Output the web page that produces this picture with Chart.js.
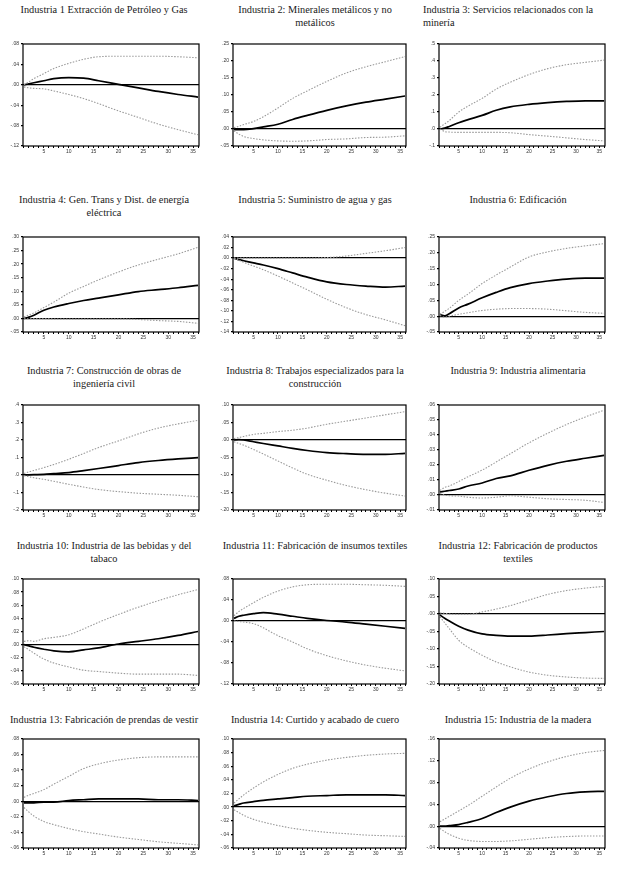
<!DOCTYPE html>
<html>
<head>
<meta charset="utf-8">
<script src="https://cdn.jsdelivr.net/npm/chart.js@4.4.1/dist/chart.umd.min.js"></script>
<style>
body { margin:0; background:#fff; width:617px; height:874px; position:relative; overflow:hidden; }
.titulo { position:absolute; font-family:'Liberation Serif', 'Times New Roman', 'DejaVu Serif', serif; font-size:10.3px; line-height:12.5px; color:#1a1a1a; white-space:pre; transform:translateX(-50%); text-align:center; }
.titulo.izq { transform:none; text-align:left; }
canvas { position:absolute; }
</style>
</head>
<body>
<script>
// periodos (horizonte 36)
const periodos = [1, 2, 3, 5, 7, 10, 13, 16, 20, 24, 28, 32, 36];

const titulos = [
    'Industria 1 Extracción de Petróleo y Gas',
    'Industria 2: Minerales metálicos y no\nmetálicos',
    'Industria 3: Servicios relacionados con la\nminería',
    'Industria 4: Gen. Trans y Dist. de energía\neléctrica',
    'Industria 5: Suministro de agua y gas',
    'Industria 6: Edificación',
    'Industria 7: Construcción de obras de\ningeniería civil',
    'Industria 8: Trabajos especializados para la\nconstrucción',
    'Industria 9: Industria alimentaria',
    'Industria 10: Industria de las bebidas y del\ntabaco',
    'Industria 11: Fabricación de insumos textiles',
    'Industria 12: Fabricación de productos\ntextiles',
    'Industria 13: Fabricación de prendas de vestir',
    'Industria 14: Curtido y acabado de cuero',
    'Industria 15: Industria de la madera'
];

// respuesta central
const centro = [
    [0, .002, .004, .008, .012, .014, .013, .008, .001, -.006, -.013, -.019, -.024],
    [-.002, -.002, -.002, .001, .006, .014, .028, .040, .055, .068, .079, .088, .097],
    [0, .005, .015, .037, .055, .080, .110, .130, .145, .155, .162, .166, .166],
    [0, .005, .012, .030, .042, .055, .066, .075, .087, .099, .106, .113, .122],
    [0, -.003, -.005, -.009, -.013, -.020, -.028, -.036, -.045, -.050, -.053, -.055, -.053],
    [.005, .001, .008, .026, .038, .058, .075, .090, .103, .111, .117, .120, .120],
    [0, .001, .002, .004, .008, .014, .025, .037, .054, .071, .083, .092, .099],
    [0, .001, 0, -.005, -.010, -.017, -.024, -.030, -.036, -.039, -.041, -.041, -.038],
    [.002, .0025, .003, .004, .006, .008, .011, .0128, .0165, .0198, .0225, .0245, .0264],
    [0, -.002, -.004, -.007, -.0095, -.011, -.008, -.005, .001, .005, .009, .014, .020],
    [.005, .009, .011, .014, .016, .013, .009, .005, .001, -.002, -.006, -.010, -.014],
    [-.003, -.012, -.020, -.035, -.046, -.057, -.061, -.063, -.063, -.060, -.056, -.053, -.050],
    [-.002, -.002, -.002, -.001, -.001, .001, .002, .003, .003, .003, .002, .002, .001],
    [.002, .004, .006, .008, .010, .012, .014, .016, .017, .018, .018, .018, .017],
    [0, 0, .001, .003, .007, .014, .025, .035, .046, .054, .060, .063, .064]
];

// banda superior (+2 SE)
const superior = [
    [0, .006, .012, .022, .032, .042, .050, .055, .056, .056, .056, .055, .053],
    [.004, .008, .013, .022, .036, .062, .090, .112, .140, .165, .183, .198, .213],
    [.010, .030, .050, .100, .135, .180, .235, .275, .320, .355, .378, .392, .405],
    [.005, .013, .020, .040, .060, .093, .118, .142, .171, .197, .218, .238, .262],
    [0, 0, 0, 0, 0, 0, 0, 0, .001, .004, .009, .014, .020],
    [.006, .015, .025, .050, .070, .103, .130, .155, .187, .203, .214, .222, .229],
    [.008, .018, .026, .042, .060, .090, .123, .157, .195, .235, .268, .292, .312],
    [.004, .007, .010, .016, .019, .024, .028, .034, .045, .054, .063, .072, .081],
    [.003, .005, .006, .009, .0122, .0166, .022, .0275, .0348, .0412, .047, .052, .0565],
    [.005, .006, .005, .009, .011, .015, .024, .034, .046, .057, .067, .076, .084],
    [.010, .018, .024, .035, .045, .057, .065, .069, .070, .070, .069, .068, .066],
    [.003, .002, 0, -.001, -.001, .006, .014, .024, .040, .056, .067, .074, .079],
    [.005, .008, .010, .015, .022, .032, .042, .048, .053, .056, .057, .057, .057],
    [.006, .012, .018, .028, .037, .048, .057, .063, .069, .073, .076, .078, .079],
    [.008, .013, .018, .028, .038, .055, .072, .088, .105, .118, .128, .135, .139]
];

// banda inferior (-2 SE)
const inferior = [
    [-.004, -.006, -.007, -.008, -.012, -.019, -.027, -.037, -.051, -.064, -.077, -.088, -.098],
    [-.005, -.015, -.022, -.028, -.032, -.035, -.036, -.035, -.031, -.029, -.025, -.024, -.020],
    [0, -.015, -.018, -.020, -.020, -.020, -.020, -.022, -.033, -.042, -.052, -.062, -.070],
    [-.001, -.001, -.001, -.001, -.002, -.002, -.002, -.002, -.002, -.004, -.008, -.011, -.018],
    [0, -.004, -.008, -.015, -.022, -.034, -.047, -.060, -.078, -.094, -.107, -.117, -.128],
    [.002, -.003, 0, .006, .011, .018, .022, .024, .024, .022, .017, .012, .009],
    [-.004, -.010, -.016, -.025, -.036, -.053, -.069, -.083, -.095, -.104, -.110, -.116, -.124],
    [-.005, -.010, -.015, -.027, -.040, -.060, -.080, -.098, -.115, -.130, -.142, -.152, -.160],
    [.001, 0, -.0005, -.0007, -.0015, -.002, -.0015, -.0005, -.0015, -.0025, -.003, -.0035, -.005],
    [-.003, -.008, -.013, -.022, -.028, -.034, -.039, -.041, -.0435, -.045, -.045, -.045, -.047],
    [0, -.001, -.002, -.005, -.013, -.028, -.040, -.053, -.066, -.076, -.084, -.090, -.095],
    [-.008, -.025, -.042, -.075, -.095, -.118, -.137, -.151, -.166, -.175, -.180, -.183, -.184],
    [-.008, -.014, -.019, -.026, -.030, -.035, -.039, -.042, -.046, -.049, -.052, -.054, -.056],
    [-.004, -.008, -.012, -.018, -.022, -.027, -.031, -.034, -.037, -.039, -.041, -.042, -.043],
    [-.004, -.010, -.015, -.022, -.026, -.028, -.028, -.027, -.024, -.021, -.019, -.018, -.018]
];

// etiquetas del eje y, de arriba hacia abajo
const etiquetasY = [
    ['.08', '.04', '.00', '-.04', '-.08', '-.12'],
    ['.25', '.20', '.15', '.10', '.05', '.00', '-.05'],
    ['.5', '.4', '.3', '.2', '.1', '.0', '-.1'],
    ['.30', '.25', '.20', '.15', '.10', '.05', '.00', '-.05'],
    ['.04', '.02', '.00', '-.02', '-.04', '-.06', '-.08', '-.10', '-.12', '-.14'],
    ['.25', '.20', '.15', '.10', '.05', '.00', '-.05'],
    ['.4', '.3', '.2', '.1', '.0', '-.1', '-.2'],
    ['.10', '.05', '.00', '-.05', '-.10', '-.15', '-.20'],
    ['.06', '.05', '.04', '.03', '.02', '.01', '.00', '-.01'],
    ['.10', '.08', '.06', '.04', '.02', '.00', '-.02', '-.04', '-.06'],
    ['.08', '.04', '.00', '-.04', '-.08', '-.12'],
    ['.10', '.05', '.00', '-.05', '-.10', '-.15', '-.20'],
    ['.08', '.06', '.04', '.02', '.00', '-.02', '-.04', '-.06'],
    ['.10', '.08', '.06', '.04', '.02', '.00', '-.02', '-.04', '-.06'],
    ['.16', '.12', '.08', '.04', '.00', '-.04']
];

// marcas del eje x (una por periodo)
const marcasX = Array.from({ length: 36 }, (_, k) => k + 1);

// posicion de cada panel en la pagina
const colIzq = [23, 233, 439];
const colDer = [199, 406, 605];
const filaArriba = [44, 237, 405, 579, 739];
const filaAbajo = [146, 332, 510, 684, 848];
const tituloX = [104, 315, 518];
const tituloY = [4, 194, 365, 540, 714];

const marco = {
    id: 'marco',
    afterDraw(chart) {
        const a = chart.chartArea, c = chart.ctx;
        c.save();
        c.strokeStyle = '#000';
        c.lineWidth = 1.2;
        c.strokeRect(a.left, a.top, a.right - a.left, a.bottom - a.top);
        c.restore();
    }
};

function crearPanel(i) {
    const col = i % 3, fila = Math.floor(i / 3);
    const izq = colIzq[col], der = colDer[col], arriba = filaArriba[fila], abajo = filaAbajo[fila];
    const ejeY = 22, ejeX = 12, margenSup = 5, margenDer = 3;

    const t = document.createElement('div');
    t.className = 'titulo';
    t.textContent = titulos[i];
    if (i === 2) {
        t.className = 'titulo izq';
        t.style.left = '423px';
    } else {
        t.style.left = tituloX[col] + 'px';
    }
    t.style.top = tituloY[fila] + 'px';
    document.body.appendChild(t);

    const cv = document.createElement('canvas');
    const w = der - izq + ejeY + margenDer, h = abajo - arriba + margenSup + ejeX;
    cv.width = w; cv.height = h;
    cv.style.width = w + 'px'; cv.style.height = h + 'px';
    cv.style.left = (izq - ejeY) + 'px';
    cv.style.top = (arriba - margenSup) + 'px';
    document.body.appendChild(cv);

    const valoresY = etiquetasY[i].map(parseFloat).sort((a, b) => a - b);
    const serie = arr => periodos.map((p, k) => ({ x: p, y: arr[k] }));
    const banda = arr => ({
        data: serie(arr), borderColor: '#9a9a9a', borderWidth: 1.1, borderDash: [1.5, 1.5]
    });

    new Chart(cv, {
        type: 'line',
        data: {
            datasets: [
                banda(superior[i]),
                banda(inferior[i]),
                { data: serie(centro[i]), borderColor: '#000', borderWidth: 1.7 }
            ]
        },
        options: {
            responsive: false,
            animation: false,
            layout: { padding: { top: margenSup, right: margenDer, left: 0, bottom: 0 } },
            elements: { point: { radius: 0 }, line: { cubicInterpolationMode: 'monotone' } },
            plugins: { legend: { display: false }, tooltip: { enabled: false } },
            scales: {
                x: {
                    type: 'linear', min: 0.8, max: 36.2,
                    afterBuildTicks: s => { s.ticks = marcasX.map(v => ({ value: v })); },
                    afterFit: s => { s.height = ejeX; },
                    ticks: {
                        autoSkip: false, maxRotation: 0, padding: 1, color: '#333',
                        font: { size: 5, family: 'Liberation Sans' },
                        callback: v => (v % 5 === 0 ? String(v) : '')
                    },
                    grid: { drawOnChartArea: false, drawTicks: true, tickLength: 2, color: '#000' },
                    border: { display: false }
                },
                y: {
                    min: valoresY[0], max: valoresY[valoresY.length - 1],
                    afterBuildTicks: s => { s.ticks = valoresY.map(v => ({ value: v })); },
                    afterFit: s => { s.width = ejeY; },
                    ticks: {
                        padding: 2, color: '#333',
                        font: { size: 5, family: 'Liberation Sans' },
                        callback: v => {
                            const k = etiquetasY[i].findIndex(e => Math.abs(parseFloat(e) - v) < 1e-9);
                            return k >= 0 ? etiquetasY[i][k] : '';
                        }
                    },
                    grid: {
                        drawTicks: true, tickLength: 2, tickColor: '#000', lineWidth: 1.3,
                        color: c => (c.tick && Math.abs(c.tick.value) < 1e-9 ? '#000' : 'rgba(0,0,0,0)')
                    },
                    border: { display: false }
                }
            }
        },
        plugins: [marco]
    });
}

for (let i = 0; i < titulos.length; i++) crearPanel(i);
</script>
</body>
</html>
